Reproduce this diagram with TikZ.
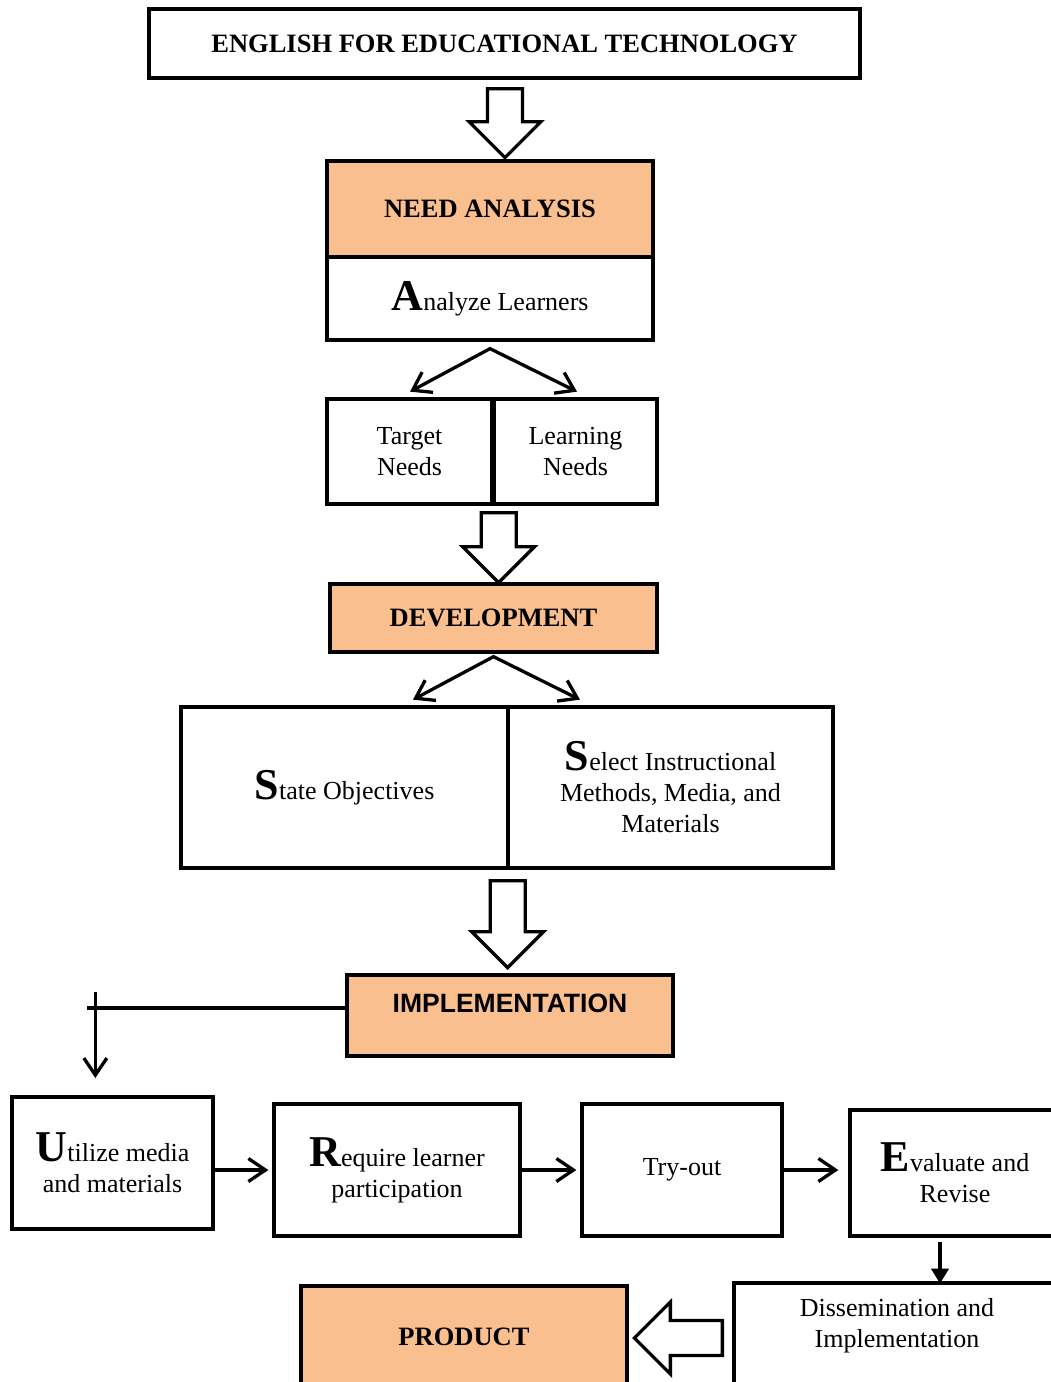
\documentclass[tikz,border=0pt]{standalone}
\usepackage{fontspec}
\setmainfont{Liberation Serif}
\newfontfamily\arialfont{Liberation Sans}
\usetikzlibrary{arrows.meta, positioning, calc}
\definecolor{peach}{RGB}{250,191,143}
\newcommand\firstletter[1]{{\fontsize{44}{44}\selectfont\bfseries #1}}

\begin{document}
\begin{tikzpicture}[
        x=1pt, y=-1pt,
        every node/.style={font=\fontsize{26}{31}\selectfont, align=center},
        box/.style={draw, line width=3.3pt, inner sep=0pt},
        headbox/.style={box, font=\fontsize{26.5}{31}\selectfont\bfseries},
        orangebox/.style={headbox, fill=peach},
        barb/.style={line width=3.3pt, -{Straight Barb[length=17pt,width=23pt]}},
        fork/.style={line width=3.3pt, {Straight Barb[length=17pt,width=23pt]}-{Straight Barb[length=17pt,width=23pt]}},
        solidhead/.style={line width=3.8pt, -{Triangle[length=15pt,width=17pt]}},
        pics/hollow/.style={code={
            \draw[line width=3.3pt, line join=miter, fill=white]
                (-17.5,0) -- (-17.5,#1) -- (-36,#1) -- (0,#1+36) -- (36,#1) -- (17.5,#1) -- (17.5,0) -- cycle;
        }}
    ]
        \useasboundingbox (0,0) rectangle (1051,1382);
        \clip (0,0) rectangle (1051,1382);

        % Vertical chain of boxes
        \node [headbox, minimum width=711pt, minimum height=69pt] (title) at (504.5,43.5) {ENGLISH FOR EDUCATIONAL TECHNOLOGY};
        \node [orangebox, minimum width=326pt, minimum height=96pt] (need) at (490,209) {NEED ANALYSIS};
        \node [box, minimum width=326pt, minimum height=83pt] (analyze) at (490,298.5) {\firstletter{A}nalyze Learners};
        \node [box, minimum width=165pt, minimum height=105pt] (target) at (409.5,451.5) {Target\\Needs};
        \node [box, minimum width=163pt, minimum height=105pt] (learning) at (575.5,451.5) {Learning\\Needs};
        \node [orangebox, minimum width=327pt, minimum height=68pt] (dev) at (493.5,618) {DEVELOPMENT};
        \node [box, minimum width=327pt, minimum height=161pt] (state) at (344.5,787.5) {\firstletter{S}tate Objectives};
        \node [box, minimum width=325pt, minimum height=161pt] (select) at (670.5,787.5) {\firstletter{S}elect Instructional\\Methods, Media, and\\Materials};
        \node [orangebox, minimum width=326pt, minimum height=81pt, font=\fontsize{26.5}{31}\arialfont\bfseries] (impl) at (510,1015.5) {IMPLEMENTATION\rule[-24pt]{0pt}{0pt}};

        % Implementation steps
        \node [box, minimum width=201pt, minimum height=132pt] (util) at (112.5,1163) {\firstletter{U}tilize media\\and materials};
        \node [box, minimum width=246pt, minimum height=132pt] (require) at (397,1170) {\firstletter{R}equire learner\\participation};
        \node [box, minimum width=200pt, minimum height=132pt] (tryout) at (682,1170) {Try-out};
        \node [box, minimum width=210pt, minimum height=126pt] (eval) at (955,1173) {\firstletter{E}valuate and\\Revise};
        \node [box, minimum width=326pt, minimum height=110pt] (dissem) at (897,1338) {Dissemination and\\Implementation\rule[-30pt]{0pt}{0pt}};
        \node [orangebox, minimum width=326pt, minimum height=102pt] (product) at (464,1337) {PRODUCT};

        % Hollow block arrows
        \pic at ($(title.south)+(0.5,9)$) {hollow=33};
        \pic at ($(target.south east)+(5,7)$) {hollow=34};
        \pic at ($(state.south east)+(-2,11)$) {hollow=51};
        \pic [rotate=-90] at ($(dissem.west)+(-10,0)$) {hollow=52};

        % Forks
        \draw[fork] ($(analyze.south)+(-80,50)$) -- ($(analyze.south)+(0,7)$) -- ($(analyze.south)+(87,50)$);
        \draw[fork] ($(dev.south)+(-80.5,46)$) -- ($(dev.south)+(0,3)$) -- ($(dev.south)+(86.5,46)$);

        % Branch to the steps
        \coordinate (turn) at ($(impl.west)+(-250,-7.5)$);
        \draw[line width=3.3pt] ($(impl.west)+(0,-7.5)$) -- ($(turn)+(-8,0)$);
        \draw[barb] ($(turn)+(0,-16)$) -- ($(turn)+(0,70)$);

        % Step arrows
        \draw[barb, shorten >=4pt] (util.east |- require.west) -- (require.west);
        \draw[barb, shorten >=4pt] (require.east) -- (tryout.west);
        \draw[barb, shorten >=10pt] (tryout.east) -- (tryout.east -| eval.west);
        \draw[solidhead] ($(eval.south)+(-15,4)$) -- ($(eval.south)+(-15,46)$);
    \end{tikzpicture}
\end{document}
